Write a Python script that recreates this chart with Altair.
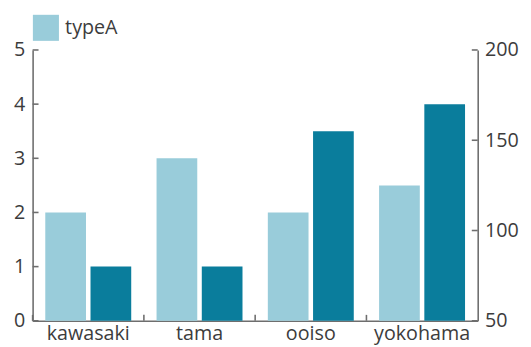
import altair as alt
import pandas as pd

cities = ["kawasaki", "tama", "ooiso", "yokohama"]
type_a = [2, 3, 2, 2.5]
type_b = [80, 80, 155, 170]
series_names = ["typeA", "typeB"]
colors = ["#99CCDA", "#0A7D9C"]
left_ticks = [0, 1, 2, 3, 4, 5]
right_ticks = [50, 100, 150, 200]

rows = []
for c, a, b in zip(cities, type_a, type_b):
    rows.append({"city": c, "series": "typeA", "value": a})
    rows.append({"city": c, "series": "typeB", "value": b})
df = pd.DataFrame(rows)
df_lt = pd.DataFrame({"value": left_ticks})
df_rt = pd.DataFrame({"value": right_ticks})
df_xt = pd.DataFrame({"city": cities})

FONT = "Open Sans"
AXIS_COLOR = "#6e6e6e"
LABEL_COLOR = "#3c3c3c"
FS = 20
W, H = 452, 275
TICK = 6

common_axis = dict(
    title=None, grid=False, domainColor=AXIS_COLOR, domainWidth=1.6,
    ticks=False, tickSize=0,
    labelFont=FONT, labelFontSize=FS, labelColor=LABEL_COLOR,
)

x_scale = alt.Scale(paddingInner=0, paddingOuter=0)
x_axis = alt.Axis(labelAngle=0, labelPadding=3, **common_axis)
x = alt.X("city:N", sort=cities, scale=x_scale, axis=x_axis)
xo = alt.XOffset(
    "series:N",
    scale=alt.Scale(domain=series_names, paddingInner=0.1, paddingOuter=0.28),
)
color = alt.Color(
    "series:N",
    scale=alt.Scale(domain=series_names, range=colors),
    legend=alt.Legend(
        values=["typeA"], title=None, orient="none", legendX=0, legendY=-36,
        symbolType="square", symbolSize=700, symbolStrokeWidth=0,
        symbolOpacity=1, labelFont=FONT, labelFontSize=20,
        labelColor=LABEL_COLOR, labelOffset=6, padding=0,
    ),
)

y_left_scale = alt.Scale(domain=[0, 5], nice=False)
y_left_axis = alt.Axis(orient="left", values=left_ticks, labelPadding=8, **common_axis)
y_right_scale = alt.Scale(domain=[50, 200], nice=False, zero=False)
y_right_axis = alt.Axis(orient="right", values=right_ticks, labelPadding=7, **common_axis)

left_bars = alt.Chart(df).transform_filter(alt.datum.series == "typeA").mark_bar().encode(
    x=x, xOffset=xo, color=color,
    y=alt.Y("value:Q", scale=y_left_scale, axis=y_left_axis),
)
left_tick_marks = alt.Chart(df_lt).mark_rule(color=AXIS_COLOR, strokeWidth=1.6).encode(
    y=alt.Y("value:Q", scale=y_left_scale, axis=y_left_axis),
    x=alt.value(0), x2=alt.value(TICK),
)
x_tick_marks = alt.Chart(df_xt).mark_rule(color=AXIS_COLOR, strokeWidth=1.6).encode(
    x=alt.X("city:N", sort=cities, scale=x_scale, axis=x_axis, bandPosition=0),
    y=alt.value(H - TICK), y2=alt.value(H),
)

right_bars = alt.Chart(df).transform_filter(alt.datum.series == "typeB").mark_bar().encode(
    x=x, xOffset=xo, color=color,
    y=alt.Y("value:Q", scale=y_right_scale, axis=y_right_axis),
    y2=alt.datum(50),
)
right_tick_marks = alt.Chart(df_rt).mark_rule(color=AXIS_COLOR, strokeWidth=1.6).encode(
    y=alt.Y("value:Q", scale=y_right_scale, axis=y_right_axis),
    x=alt.value(W - TICK), x2=alt.value(W),
)

left_group = alt.layer(left_bars, left_tick_marks, x_tick_marks)
right_group = alt.layer(right_bars, right_tick_marks)

chart = (
    alt.layer(left_group, right_group)
    .resolve_scale(y="independent")
    .properties(
        width=W, height=H, autosize="none",
        padding={"left": 25, "top": 40, "right": 46, "bottom": 24},
    )
    .configure_view(stroke=None)
)

chart.save("out.html", embed_options={"renderer": "svg", "actions": False})
